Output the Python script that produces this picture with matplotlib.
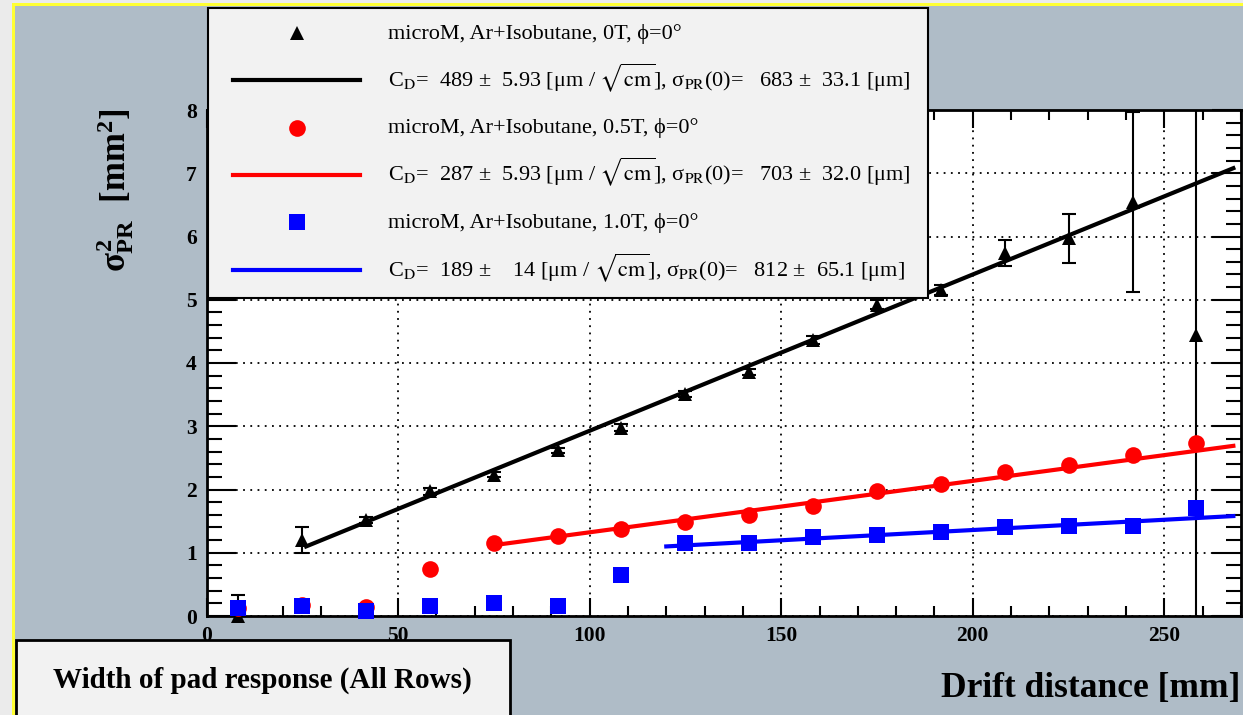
import matplotlib
matplotlib.use("Agg")
import matplotlib.pyplot as plt
from matplotlib.lines import Line2D
from matplotlib.patches import Rectangle
from matplotlib.ticker import MultipleLocator

# ---------------- data ----------------
drift = [8.3, 25.0, 41.7, 58.3, 75.0, 91.7, 108.3, 125.0, 141.7, 158.3,
         175.0, 191.7, 208.3, 225.0, 241.7, 258.3]

black_y = [0.00, 1.20, 1.52, 1.97, 2.23, 2.62, 2.98, 3.51, 3.86, 4.36,
           4.92, 5.15, 5.74, 5.97, 6.55, 4.44]
black_err = [0.03, 0.21, 0.05, 0.05, 0.04, 0.04, 0.05, 0.05, 0.05, 0.06,
             0.07, 0.08, 0.21, 0.39, 1.42, 5.00]

red_y = [0.13, 0.17, 0.14, 0.74, 1.15, 1.27, 1.38, 1.49, 1.60, 1.74,
         1.98, 2.09, 2.28, 2.38, 2.54, 2.73]
red_err = [0.03] * 16

blue_y = [0.13, 0.16, 0.08, 0.16, 0.20, 0.16, 0.65, 1.16, 1.16, 1.25,
          1.28, 1.33, 1.40, 1.43, 1.43, 1.71]
blue_err = [0.20, 0.03, 0.03, 0.03, 0.03, 0.03, 0.03, 0.03, 0.03, 0.03,
            0.03, 0.03, 0.03, 0.03, 0.03, 0.03]

# fit lines (end points)
black_fit_x = [26.0, 268.0]
black_fit_y = [1.10, 7.08]
red_fit_x = [75.0, 268.0]
red_fit_y = [1.12, 2.69]
blue_fit_x = [120.0, 268.0]
blue_fit_y = [1.10, 1.58]

fields = ["0T", "0.5T", "1.0T"]
cd_vals = ["489", "287", "189"]
cd_errs = [" 5.93", " 5.93", "   14"]
s0_vals = ["683", "703", "812"]
s0_errs = [" 33.1", " 32.0", " 65.1"]

x_ticks = [0, 50, 100, 150, 200, 250]
y_ticks = [0, 1, 2, 3, 4, 5, 6, 7, 8]

# ---------------- style ----------------
W, H = 1243, 715
PANEL = "#afbcc7"
SERIF = ["Liberation Serif", "DejaVu Serif"]

plt.rcParams["mathtext.fontset"] = "custom"
plt.rcParams["mathtext.rm"] = "Liberation Serif:bold"
plt.rcParams["mathtext.it"] = "Liberation Serif:bold"
plt.rcParams["mathtext.bf"] = "Liberation Serif:bold"

fig = plt.figure(figsize=(W / 100, H / 100), dpi=100, facecolor=PANEL)


def fx(x):
    return x / W


def fy(y):
    return 1 - y / H


def frect(x0, y0, x1, y1, **kw):
    """rectangle in pixel coords (y from top)"""
    r = Rectangle((fx(x0), fy(y1)), (x1 - x0) / W, (y1 - y0) / H,
                  transform=fig.transFigure, **kw)
    fig.add_artist(r)
    return r


# outer frame: light gray strip + yellow line
frect(0, 0, 12, H, facecolor="#ebebeb", edgecolor="none", zorder=0)
frect(0, 0, W, 3, facecolor="#ebebeb", edgecolor="none", zorder=0)
frect(12, 3, 15, H, facecolor="#ffff33", edgecolor="none", zorder=0.1)
frect(12, 3, W, 6, facecolor="#ffff33", edgecolor="none", zorder=0.1)

ax_l, ax_r, ax_t, ax_b = 206.5, 1241, 110, 616
ax = fig.add_axes([fx(ax_l), fy(ax_b), (ax_r - ax_l) / W, (ax_b - ax_t) / H])
ax.set_facecolor("white")
ax.set_xlim(0, 270)
ax.set_ylim(0, 8)

ax.set_xticks(x_ticks)
ax.set_yticks(y_ticks)
ax.xaxis.set_minor_locator(MultipleLocator(10))
ax.yaxis.set_minor_locator(MultipleLocator(0.2))
ax.tick_params(axis="both", which="both", direction="in", top=True, right=True,
               width=1.5, color="black")
ax.tick_params(axis="y", which="major", length=21, pad=7)
ax.tick_params(axis="y", which="minor", length=11)
ax.tick_params(axis="x", which="major", length=13, pad=7)
ax.tick_params(axis="x", which="minor", length=7)
for lab in ax.get_xticklabels() + ax.get_yticklabels():
    lab.set_family(SERIF)
    lab.set_weight("bold")
    lab.set_fontsize(15.5)
for sp in ax.spines.values():
    sp.set_linewidth(2)
ax.grid(True, which="major", color="black", linestyle=(0, (1, 3)), linewidth=1.3)
ax.set_axisbelow(False)

# data: error bars + markers + fits
series = [
    (black_y, black_err, "black", "^", 9.5, black_fit_x, black_fit_y),
    (red_y, red_err, "#ff0000", "o", 12, red_fit_x, red_fit_y),
    (blue_y, blue_err, "#0000ff", "s", 12, blue_fit_x, blue_fit_y),
]
z = 3
for ys, es, col, mk, ms, fitx, fity in series:
    ax.errorbar(drift, ys, yerr=es, fmt="none", ecolor="black", elinewidth=1.5,
                capsize=5, capthick=1.5, zorder=z)
    ax.plot(drift, ys, linestyle="none", marker=mk, markersize=ms, color=col,
            markeredgewidth=0, clip_on=False, zorder=z + 0.1)
    ax.plot(fitx, fity, color=col, linewidth=3, zorder=z + 0.2)
    z += 1

# axis labels
ax.set_xlabel("Drift distance [mm]", family=SERIF, weight="bold", fontsize=25.5,
              ha="right", va="center")
ax.xaxis.set_label_coords((1240 - ax_l) / (ax_r - ax_l), (ax_b - 688) / (ax_b - ax_t))
ax.set_ylabel(r"$\sigma^{2}_{\mathrm{PR}}$  [mm$^{2}$]", family=SERIF, weight="bold",
              fontsize=25, va="center", ha="center", math_fontfamily="custom")
ax.yaxis.set_label_coords((115 - ax_l) / (ax_r - ax_l), (ax_b - 190) / (ax_b - ax_t))

# legend box (drawn as a ROOT-style TLegend)
frect(208, 8, 928, 298, facecolor="#f2f2f2", edgecolor="black", linewidth=1.5,
      zorder=20)
row_y = [33, 80, 127.5, 174.5, 222, 270]
mk_info = [("black", "^", 9.5), ("#ff0000", "o", 12), ("#0000ff", "s", 12)]
for i, (col, mk, ms) in enumerate(mk_info):
    y_m = row_y[2 * i]
    y_l = row_y[2 * i + 1]
    fig.add_artist(Line2D([fx(297)], [fy(y_m)], linestyle="none", marker=mk,
                          markersize=ms, color=col, markeredgewidth=0,
                          transform=fig.transFigure, zorder=21))
    fig.add_artist(Line2D([fx(233), fx(360)], [fy(y_l), fy(y_l)], color=col,
                          linewidth=3, transform=fig.transFigure, zorder=21))
    lab1 = "microM, Ar+Isobutane, %s, \u03d5=0\u00b0" % fields[i]
    lab2 = ("C$_{\\mathrm{D}}$=  %s \u00b1 %s [\u03bcm / $\\sqrt{\\mathrm{cm}}$], "
            "\u03c3$_{\\mathrm{PR}}$(0)=   %s \u00b1 %s [\u03bcm]"
            % (cd_vals[i], cd_errs[i], s0_vals[i], s0_errs[i]))
    fig.text(fx(388), fy(y_m + 6), lab1, family=SERIF, fontsize=16,
             va="baseline", ha="left", zorder=22)
    fig.text(fx(388), fy(y_l + 6), lab2, family=SERIF, fontsize=16,
             va="baseline", ha="left", zorder=22, math_fontfamily="stix")

# title box
frect(16, 640, 510, H + 10, facecolor="#f2f2f2", edgecolor="black", linewidth=2,
      zorder=10)
fig.text(fx(262), fy(680), "Width of pad response (All Rows)", family=SERIF,
         weight="bold", fontsize=21, ha="center", va="center", zorder=11)

fig.savefig("out.png", dpi=100, facecolor=PANEL)
